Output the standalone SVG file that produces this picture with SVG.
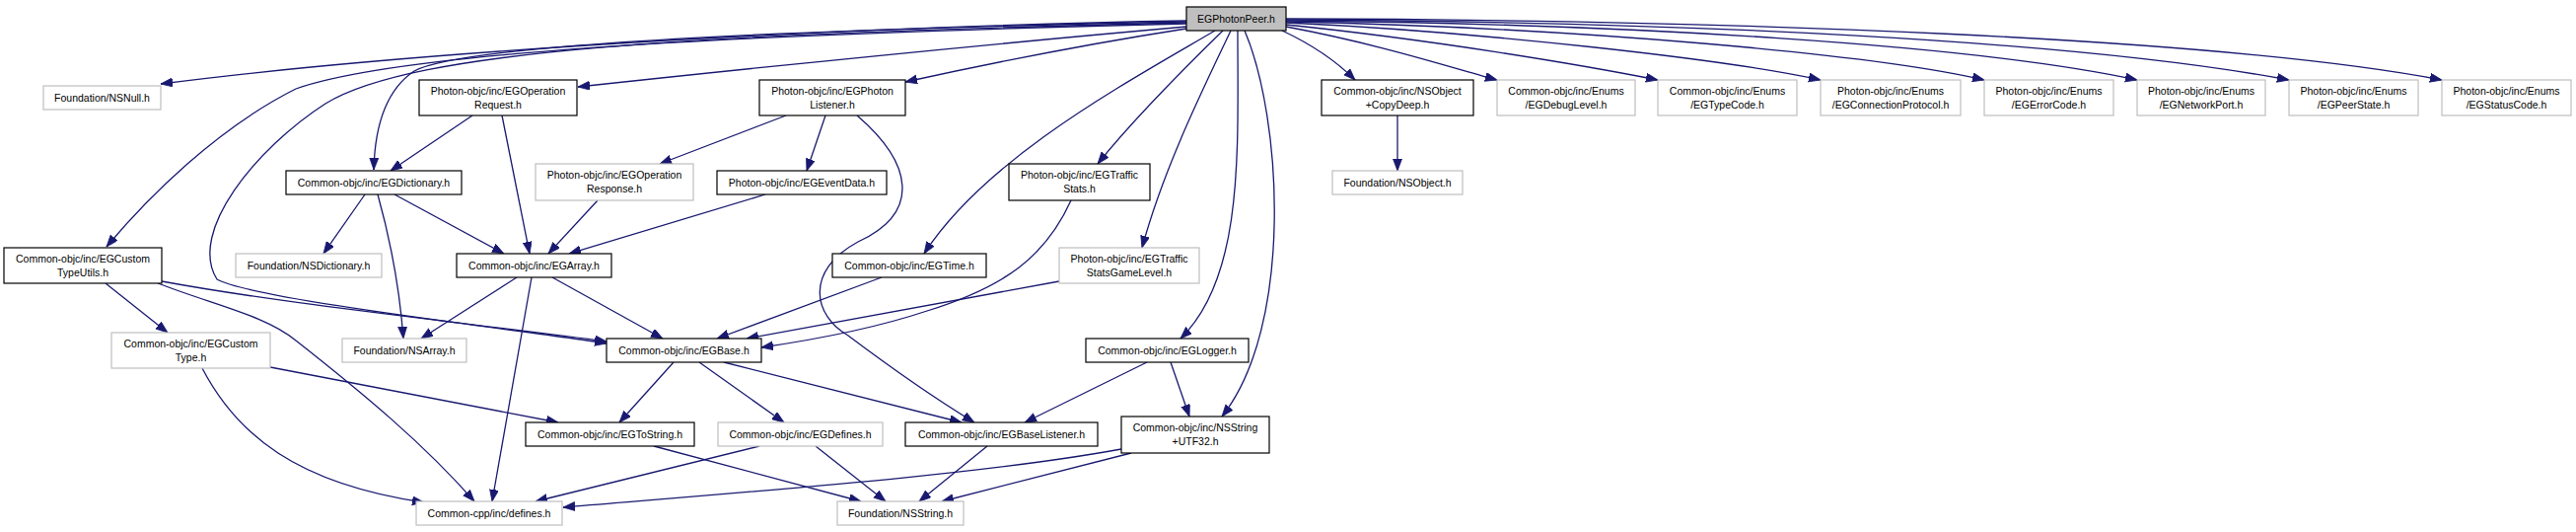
<svg xmlns="http://www.w3.org/2000/svg" width="2612" height="539" viewBox="0 0 2612 539">
<defs>
<marker id="ah" markerUnits="userSpaceOnUse" markerWidth="13" markerHeight="10" refX="12" refY="4.5" orient="auto">
<path d="M0,0 L12,4.5 L0,9 z" fill="#191970" stroke="#191970" stroke-width="0.8"/>
</marker>
</defs>
<style>
.n rect{fill:#fff;stroke:#000;stroke-width:1.2}
.u rect{fill:#fff;stroke:#bfbfbf;stroke-width:1.2}
.r rect{fill:#bfbfbf;stroke:#000;stroke-width:1.2}
text{font-family:"Liberation Sans",Arial,sans-serif;font-size:10.5px;fill:#000;text-anchor:middle}
#edges path{fill:none;stroke:#191970;stroke-width:1.3;marker-end:url(#ah)}
</style>
<rect width="2612" height="539" fill="#fff"/>
<g id="edges">
<path d="M1203,21 C900,26 450,48 163,85"/>
<path d="M1203,23 C700,35 420,50 330,105 C260,150 190,235 220,283 C260,305 560,338 615,348"/>
<path d="M1203,22 C800,30 470,45 420,72 C390,92 380,130 379,172"/>
<path d="M1203,24 C700,36 400,55 300,90 C220,130 150,200 108,250"/>
<path d="M1203,27 C1000,45 800,65 586,88"/>
<path d="M1203,29 C1100,45 1000,65 918,83"/>
<path d="M1232,31 C1140,85 1000,160 937,257"/>
<path d="M1240,31 C1200,70 1150,120 1113,166"/>
<path d="M1248,31 C1220,90 1180,170 1158,251"/>
<path d="M1255,31 C1255,150 1262,280 1197,343"/>
<path d="M1262,31 C1300,120 1312,330 1239,422"/>
<path d="M1300,31 C1330,45 1355,62 1374,81"/>
<path d="M1304,27 C1400,45 1470,68 1518,81"/>
<path d="M1304,25 C1450,40 1600,65 1681,81"/>
<path d="M1304,23 C1500,32 1750,60 1846,81"/>
<path d="M1304,22 C1600,28 1900,55 2012,81"/>
<path d="M1304,21 C1650,24 2000,45 2167,81"/>
<path d="M1304,20 C1700,22 2100,40 2321,81"/>
<path d="M1304,19 C1750,20 2250,38 2476,81"/>
<path d="M479,117 L396,173"/>
<path d="M509,117 L537,257"/>
<path d="M606,203 L556,257"/>
<path d="M776,197 L577,257"/>
<path d="M797,117 L669,166"/>
<path d="M837,117 L818,173"/>
<path d="M869,117 C925,165 935,215 870,245 C815,275 825,320 860,340 C900,370 950,405 988,428"/>
<path d="M370,197 L328,257"/>
<path d="M383,197 C395,240 405,290 409,343"/>
<path d="M400,197 L511,257"/>
<path d="M107,287 L170,337"/>
<path d="M160,287 C220,310 270,320 300,345 C370,400 430,450 481,508"/>
<path d="M164,285 C300,310 500,330 615,346"/>
<path d="M524,281 L427,343"/>
<path d="M539,281 L499,508"/>
<path d="M560,281 L672,343"/>
<path d="M894,281 L727,343"/>
<path d="M1074,285 L757,343"/>
<path d="M1086,203 C1060,260 1020,290 940,315 C880,335 820,345 772,352"/>
<path d="M274,372 L566,428"/>
<path d="M205,373 C240,440 300,490 430,509"/>
<path d="M683,367 L628,428"/>
<path d="M709,367 L795,428"/>
<path d="M734,367 L975,428"/>
<path d="M1163,367 L1039,428"/>
<path d="M1187,367 L1206,422"/>
<path d="M663,452 L873,508"/>
<path d="M770,452 L543,508"/>
<path d="M827,452 L898,508"/>
<path d="M1001,452 L932,508"/>
<path d="M1137,455 C1000,480 800,495 571,514"/>
<path d="M1147,459 L955,508"/>
<path d="M1417,117 L1417,173"/>
</g>
<g id="n_peer" class="r"><rect x="1203" y="7" width="101" height="24"/><text x="1253.5" y="23">EGPhotonPeer.h</text></g>
<g id="n_nsnull" class="u"><rect x="44" y="87" width="119" height="24"/><text x="103.5" y="103">Foundation/NSNull.h</text></g>
<g id="n_oprequest" class="n"><rect x="425" y="81" width="160" height="36"/><text x="505" y="96">Photon-objc/inc/EGOperation</text><text x="505" y="110">Request.h</text></g>
<g id="n_listener" class="n"><rect x="770" y="81" width="148" height="36"/><text x="844" y="96">Photon-objc/inc/EGPhoton</text><text x="844" y="110">Listener.h</text></g>
<g id="n_copydeep" class="n"><rect x="1340" y="81" width="154" height="36"/><text x="1417" y="96">Common-objc/inc/NSObject</text><text x="1417" y="110">+CopyDeep.h</text></g>
<g id="n_debuglevel" class="u"><rect x="1518" y="81" width="140" height="36"/><text x="1588" y="96">Common-objc/inc/Enums</text><text x="1588" y="110">/EGDebugLevel.h</text></g>
<g id="n_typecode" class="u"><rect x="1681" y="81" width="141" height="36"/><text x="1751.5" y="96">Common-objc/inc/Enums</text><text x="1751.5" y="110">/EGTypeCode.h</text></g>
<g id="n_connproto" class="u"><rect x="1846" y="81" width="142" height="36"/><text x="1917" y="96">Photon-objc/inc/Enums</text><text x="1917" y="110">/EGConnectionProtocol.h</text></g>
<g id="n_errorcode" class="u"><rect x="2012" y="81" width="131" height="36"/><text x="2077.5" y="96">Photon-objc/inc/Enums</text><text x="2077.5" y="110">/EGErrorCode.h</text></g>
<g id="n_networkport" class="u"><rect x="2167" y="81" width="130" height="36"/><text x="2232" y="96">Photon-objc/inc/Enums</text><text x="2232" y="110">/EGNetworkPort.h</text></g>
<g id="n_peerstate" class="u"><rect x="2321" y="81" width="131" height="36"/><text x="2386.5" y="96">Photon-objc/inc/Enums</text><text x="2386.5" y="110">/EGPeerState.h</text></g>
<g id="n_statuscode" class="u"><rect x="2476" y="81" width="131" height="36"/><text x="2541.5" y="96">Photon-objc/inc/Enums</text><text x="2541.5" y="110">/EGStatusCode.h</text></g>
<g id="n_dictionary" class="n"><rect x="290" y="173" width="178" height="24"/><text x="379" y="189">Common-objc/inc/EGDictionary.h</text></g>
<g id="n_opresponse" class="u"><rect x="543" y="166" width="160" height="37"/><text x="623" y="181">Photon-objc/inc/EGOperation</text><text x="623" y="195">Response.h</text></g>
<g id="n_eventdata" class="n"><rect x="727" y="173" width="172" height="24"/><text x="813" y="189">Photon-objc/inc/EGEventData.h</text></g>
<g id="n_trafficstats" class="n"><rect x="1023" y="166" width="143" height="37"/><text x="1094.5" y="181">Photon-objc/inc/EGTraffic</text><text x="1094.5" y="195">Stats.h</text></g>
<g id="n_nsobject" class="u"><rect x="1351" y="173" width="132" height="24"/><text x="1417" y="189">Foundation/NSObject.h</text></g>
<g id="n_customtypeutils" class="n"><rect x="4" y="251" width="160" height="36"/><text x="84" y="266">Common-objc/inc/EGCustom</text><text x="84" y="280">TypeUtils.h</text></g>
<g id="n_nsdictionary" class="u"><rect x="239" y="257" width="148" height="24"/><text x="313" y="273">Foundation/NSDictionary.h</text></g>
<g id="n_array" class="n"><rect x="463" y="257" width="157" height="24"/><text x="541.5" y="273">Common-objc/inc/EGArray.h</text></g>
<g id="n_time" class="n"><rect x="844" y="257" width="156" height="24"/><text x="922" y="273">Common-objc/inc/EGTime.h</text></g>
<g id="n_gamelevel" class="u"><rect x="1074" y="251" width="142" height="36"/><text x="1145" y="266">Photon-objc/inc/EGTraffic</text><text x="1145" y="280">StatsGameLevel.h</text></g>
<g id="n_customtype" class="u"><rect x="113" y="337" width="161" height="36"/><text x="193.5" y="352">Common-objc/inc/EGCustom</text><text x="193.5" y="366">Type.h</text></g>
<g id="n_nsarray" class="u"><rect x="347" y="343" width="126" height="24"/><text x="410" y="359">Foundation/NSArray.h</text></g>
<g id="n_base" class="n"><rect x="615" y="343" width="157" height="24"/><text x="693.5" y="359">Common-objc/inc/EGBase.h</text></g>
<g id="n_logger" class="n"><rect x="1101" y="343" width="165" height="24"/><text x="1183.5" y="359">Common-objc/inc/EGLogger.h</text></g>
<g id="n_tostring" class="n"><rect x="533" y="428" width="171" height="24"/><text x="618.5" y="444">Common-objc/inc/EGToString.h</text></g>
<g id="n_defines" class="u"><rect x="728" y="428" width="167" height="24"/><text x="811.5" y="444">Common-objc/inc/EGDefines.h</text></g>
<g id="n_baselistener" class="n"><rect x="918" y="428" width="195" height="24"/><text x="1015.5" y="444">Common-objc/inc/EGBaseListener.h</text></g>
<g id="n_utf32" class="n"><rect x="1137" y="422" width="150" height="37"/><text x="1212" y="437">Common-objc/inc/NSString</text><text x="1212" y="451">+UTF32.h</text></g>
<g id="n_cppdefines" class="u"><rect x="422" y="508" width="148" height="24"/><text x="496" y="524">Common-cpp/inc/defines.h</text></g>
<g id="n_nsstring" class="u"><rect x="849" y="508" width="128" height="24"/><text x="913" y="524">Foundation/NSString.h</text></g>
</svg>
